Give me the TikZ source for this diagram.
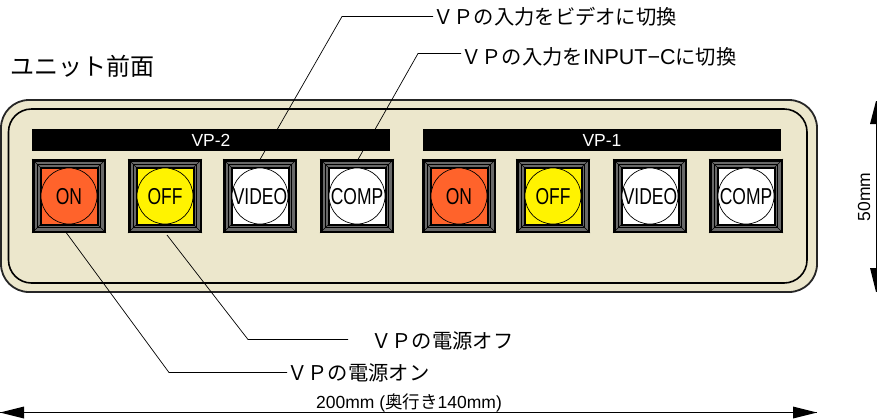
\documentclass[tikz,border=0pt]{standalone}
\usepackage{fontspec}
\setmainfont{Liberation Sans}
\newfontfamily\narrowf[FakeStretch=0.76]{Liberation Sans}
\newfontfamily\jp{Noto Sans CJK JP}
\definecolor{panel}{RGB}{236,231,204}
\definecolor{onred}{RGB}{255,99,43}
\definecolor{offyel}{RGB}{255,243,0}
\definecolor{bevel}{RGB}{105,105,105}
\tikzset{
 lead/.style={draw=black,line width=0.7pt},
 bar/.style={fill=black,draw=none,text=white,font=\fontsize{17.5}{18}\selectfont,minimum height=22pt,inner sep=0pt},
 lab/.style={font=\fontsize{20.3}{20}\jp,anchor=west,inner sep=0pt},
 dimtext/.style={font=\fontsize{17.5}{18}\selectfont,inner sep=0pt},
 btntext/.style={font=\fontsize{23}{23}\narrowf,inner sep=0pt},
 dimtip/.style={fill=black,draw=none},
}
\newcommand{\btn}[4]{% name, x, color, text
 \begin{scope}[shift={(#2,159)}]
  \fill[black] (0,0) rectangle (74,74);
  \fill[bevel] (2.5,2.5) rectangle (71.5,71.5);
  \draw[black,line width=.8pt] (5.2,5.2) rectangle (68.8,68.8);
  \fill[black] (7.5,7.5) rectangle (66.5,66.5);
  \fill[#3] (9.5,9.5) rectangle (64.5,64.5);
  \draw[black,line width=.5pt] (0,0)--(9,9) (74,0)--(65,9) (0,74)--(9,65) (74,74)--(65,65);
  \node[circle,fill=#3,draw=black,line width=.7pt,minimum size=56pt,inner sep=0pt] (#1) at (37,37) {};
  \node[btntext] at (37,37.5) {#4};
 \end{scope}}
\begin{document}
\begin{tikzpicture}[x=1pt,y=-1pt]
\useasboundingbox (0,0) rectangle (877,418);
\draw[fill=panel,draw=black!85,line width=1.8pt,rounded corners=28pt] (1,100) rectangle (817,292);
\draw[black,line width=1.6pt,rounded corners=23pt] (8.5,109) rectangle (807,283);
\coordinate (topA) at (342,16.5);
\coordinate (topB) at (418,53.5);
\coordinate (botA) at (169,372.5);
\coordinate (botB) at (248,339.5);
\coordinate (btnA) at (260,159.5);
\coordinate (btnB) at (358,159.5);
\coordinate (btnC) at (66.5,233);
\coordinate (btnD) at (167,235);
\coordinate (offend) at (348,339.5);
\node[lab] (t1) at (433,17) {ＶＰの入力をビデオに切換};
\node[lab] (t2) at (461,57) {ＶＰの入力を{\rmfamily\fontsize{21.5}{21.5}\selectfont INPUT−C}に切換};
\node[lab] (t3) at (371,340.5) {ＶＰの電源オフ};
\node[lab] (t4) at (287,373) {ＶＰの電源オン};
\node[font=\fontsize{24}{24}\jp,anchor=west,inner sep=0pt] (t5) at (10,66) {ユニット前面};
\draw[lead] (btnA) -- (topA) -- (topA -| t1.west);
\draw[lead] (btnB) -- (topB) -- (topB -| t2.west);
\draw[lead] (btnC) -- (botA) -- (botA -| t4.west);
\draw[lead] (btnD) -- (botB) -- (offend);
\node[bar,minimum width=358pt] (b2) at (211,140) {VP-2};
\node[bar,minimum width=358pt] (b1) at (602,140) {VP-1};
\btn{a1}{32}{onred}{ON}
\btn{a2}{128}{offyel}{OFF}
\btn{a3}{223}{white}{VIDEO}
\btn{a4}{320}{white}{COMP}
\btn{c1}{422}{onred}{ON}
\btn{c2}{516}{offyel}{OFF}
\btn{c3}{613}{white}{VIDEO}
\btn{c4}{709}{white}{COMP}
% dimensions
\coordinate (hl) at (0,412.5); \coordinate (hr) at (817,412.5);
\coordinate (vt) at (876,101); \coordinate (vb) at (876,292);
\draw[black,line width=.8pt] (hl) -- (hr);
\fill[dimtip] (hl) -- (24,406.5) -- (24,418.5) -- cycle;
\fill[dimtip] (hr) -- (793,406.5) -- (793,418.5) -- cycle;
\draw[black,line width=.8pt] (vt) -- (vb);
\fill[dimtip] (vt) -- (870,124) -- (882,124) -- cycle;
\fill[dimtip] (vb) -- (870,268) -- (882,268) -- cycle;
\node[dimtext] (w) at (409,402.5) {200mm ({\jp\fontsize{17.5}{18}\selectfont 奥行き}140mm)};
\node[dimtext,rotate=90] (h) at (864,197) {50mm};
\end{tikzpicture}
\end{document}
